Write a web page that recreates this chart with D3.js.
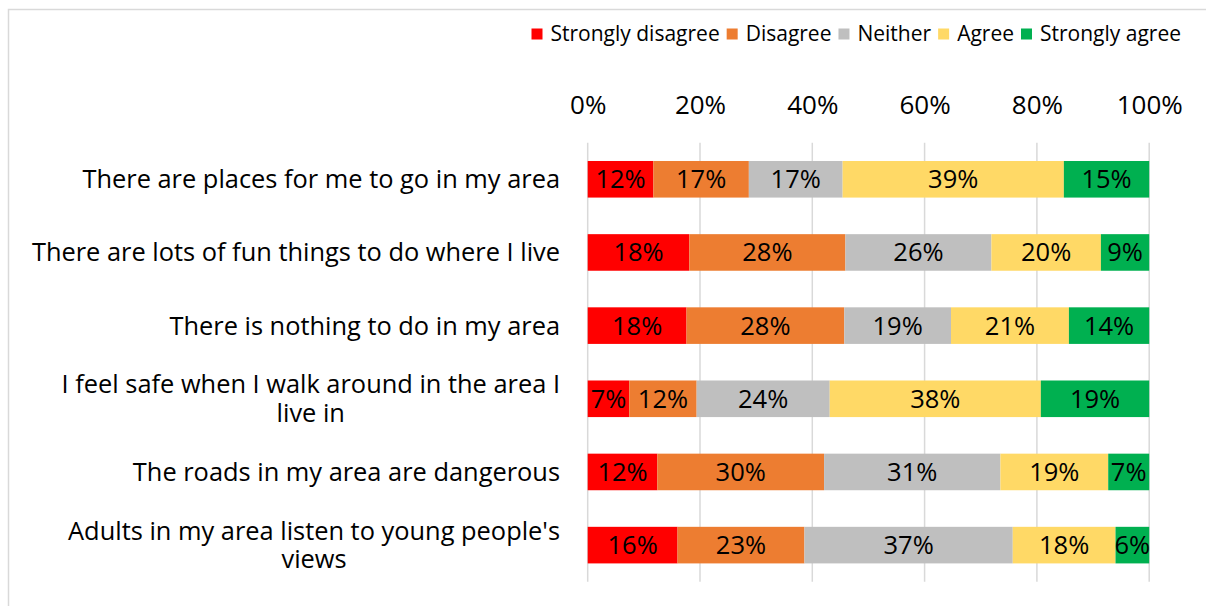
<!DOCTYPE html>
<html>
<head>
<meta charset="utf-8">
<script src="https://cdn.jsdelivr.net/npm/d3@7"></script>
<style>
    body { margin: 0; background: #fff; }
    svg text { font-family: "Open Sans", sans-serif; fill: #000; }
</style>
</head>
<body>
<div id="chart"></div>
<script>
// survey statements, top to bottom
const categories = [
    "There are places for me to go in my area",
    "There are lots of fun things to do where I live",
    "There is nothing to do in my area",
    "I feel safe when I walk around in the area I live in",
    "The roads in my area are dangerous",
    "Adults in my area listen to young people's views"
];

const seriesNames = ["Strongly disagree", "Disagree", "Neither", "Agree", "Strongly agree"];

// percentages per statement
const stronglyDisagree = [11.7, 18.1, 17.6, 7.4, 12.4, 16.0];
const disagree         = [17.0, 27.8, 28.1, 12.0, 29.7, 22.6];
const neither          = [16.7, 26.0, 19.0, 23.7, 31.4, 37.1];
const agree            = [39.4, 19.5, 21.0, 37.6, 19.2, 18.3];
const stronglyAgree    = [15.2, 8.6, 14.3, 19.3, 7.3, 6.0];

const tickValues = [0, 20, 40, 60, 80, 100];

const seriesColors = ["#FF0000", "#ED7D31", "#BFBFBF", "#FFD966", "#00B050"];

const width = 1206, height = 606;
const margin = {top: 142.7, right: 56.8, bottom: 24.3, left: 587.7};

const fontSizes = {category: 25.4, axis: 26, label: 25.5, legend: 21};

const svg = d3.select("#chart").append("svg")
    .attr("width", width)
    .attr("height", height);

// chart frame (only top and left edges are in view)
svg.append("rect")
    .attr("x", 8.5).attr("y", 9.5)
    .attr("width", width + 20).attr("height", height + 20)
    .attr("fill", "none")
    .attr("stroke", "#D9D9D9")
    .attr("stroke-width", 1.5);

// build the rows for stacking
const allSeries = [stronglyDisagree, disagree, neither, agree, stronglyAgree];
const rows = categories.map((c, i) => {
    const row = {category: c};
    seriesNames.forEach((s, j) => { row[s] = allSeries[j][i]; });
    return row;
});

const stacked = d3.stack().keys(seriesNames)(rows);

const x = d3.scaleLinear()
    .domain([0, 100])
    .range([margin.left, width - margin.right]);

const y = d3.scaleBand()
    .domain(categories)
    .range([margin.top, height - margin.bottom])
    .paddingInner(0.5)
    .paddingOuter(0.25);

// vertical gridlines
svg.append("g")
    .selectAll("line")
    .data(tickValues)
    .join("line")
    .attr("x1", d => x(d)).attr("x2", d => x(d))
    .attr("y1", margin.top).attr("y2", height - margin.bottom)
    .attr("stroke", "#D9D9D9")
    .attr("stroke-width", 1.5);

// top axis labels
const xAxis = d3.axisTop(x)
    .tickValues(tickValues)
    .tickSize(0)
    .tickPadding(0)
    .tickFormat(d => d + "%");

svg.append("g")
    .attr("transform", "translate(0,105)")
    .call(xAxis)
    .call(g => g.select(".domain").remove())
    .selectAll("text")
    .attr("dy", "0.35em")
    .style("font-size", fontSizes.axis + "px")
    .style("font-family", "'Open Sans', sans-serif")
    .attr("fill", "#000");

// bars
const layers = svg.append("g")
    .selectAll("g")
    .data(stacked)
    .join("g")
    .attr("fill", (d, i) => seriesColors[i]);

layers.selectAll("rect")
    .data(d => d)
    .join("rect")
    .attr("x", d => x(d[0]))
    .attr("y", d => y(d.data.category))
    .attr("width", d => x(d[1]) - x(d[0]))
    .attr("height", y.bandwidth());

// data labels
layers.selectAll("text")
    .data(d => d)
    .join("text")
    .attr("x", d => (x(d[0]) + x(d[1])) / 2)
    .attr("y", d => y(d.data.category) + y.bandwidth() / 2)
    .attr("dy", "0.35em")
    .attr("text-anchor", "middle")
    .style("font-size", fontSizes.label + "px")
    .text(d => Math.round(d[1] - d[0]) + "%");

// category labels, wrapped and centred inside a right-aligned block
const labelRight = 560;
const wrapLimit = 540;
const lineHeight = 28.5;

categories.forEach(cat => {
    const probe = svg.append("text").style("font-size", fontSizes.category + "px");
    const words = cat.split(" ");
    const lines = [];
    let current = [];
    words.forEach(w => {
        current.push(w);
        probe.text(current.join(" "));
        if (probe.node().getComputedTextLength() > wrapLimit && current.length > 1) {
            current.pop();
            lines.push(current.join(" "));
            current = [w];
        }
    });
    lines.push(current.join(" "));

    let maxW = 0;
    lines.forEach(l => {
        probe.text(l);
        maxW = Math.max(maxW, probe.node().getComputedTextLength());
    });
    probe.remove();

    const cx = labelRight - maxW / 2;
    const cy = y(cat) + y.bandwidth() / 2;
    const startY = cy - (lines.length - 1) * lineHeight / 2;
    const label = svg.append("text")
        .attr("text-anchor", "middle")
        .style("font-size", fontSizes.category + "px");
    lines.forEach((l, i) => {
        label.append("tspan")
            .attr("x", cx)
            .attr("y", startY + i * lineHeight)
            .attr("dy", "0.35em")
            .text(l);
    });
});

// legend along the top right, right edge lined up with the 100% label
const legend = svg.append("g").attr("transform", "translate(0,34)");
const legendItems = [];
let lx = 0;
seriesNames.forEach((s, i) => {
    const sq = legend.append("rect")
        .attr("y", -5.5)
        .attr("width", 11).attr("height", 11)
        .attr("fill", seriesColors[i]);
    const t = legend.append("text")
        .attr("dy", "0.35em")
        .style("font-size", fontSizes.legend + "px")
        .text(s);
    legendItems.push({sq: sq, t: t, x: lx});
    lx += 11 + 8 + t.node().getComputedTextLength() + 7;
});
const legendStart = 1181 - (lx - 7);
legendItems.forEach(item => {
    item.sq.attr("x", legendStart + item.x);
    item.t.attr("x", legendStart + item.x + 19);
});
</script>
</body>
</html>
